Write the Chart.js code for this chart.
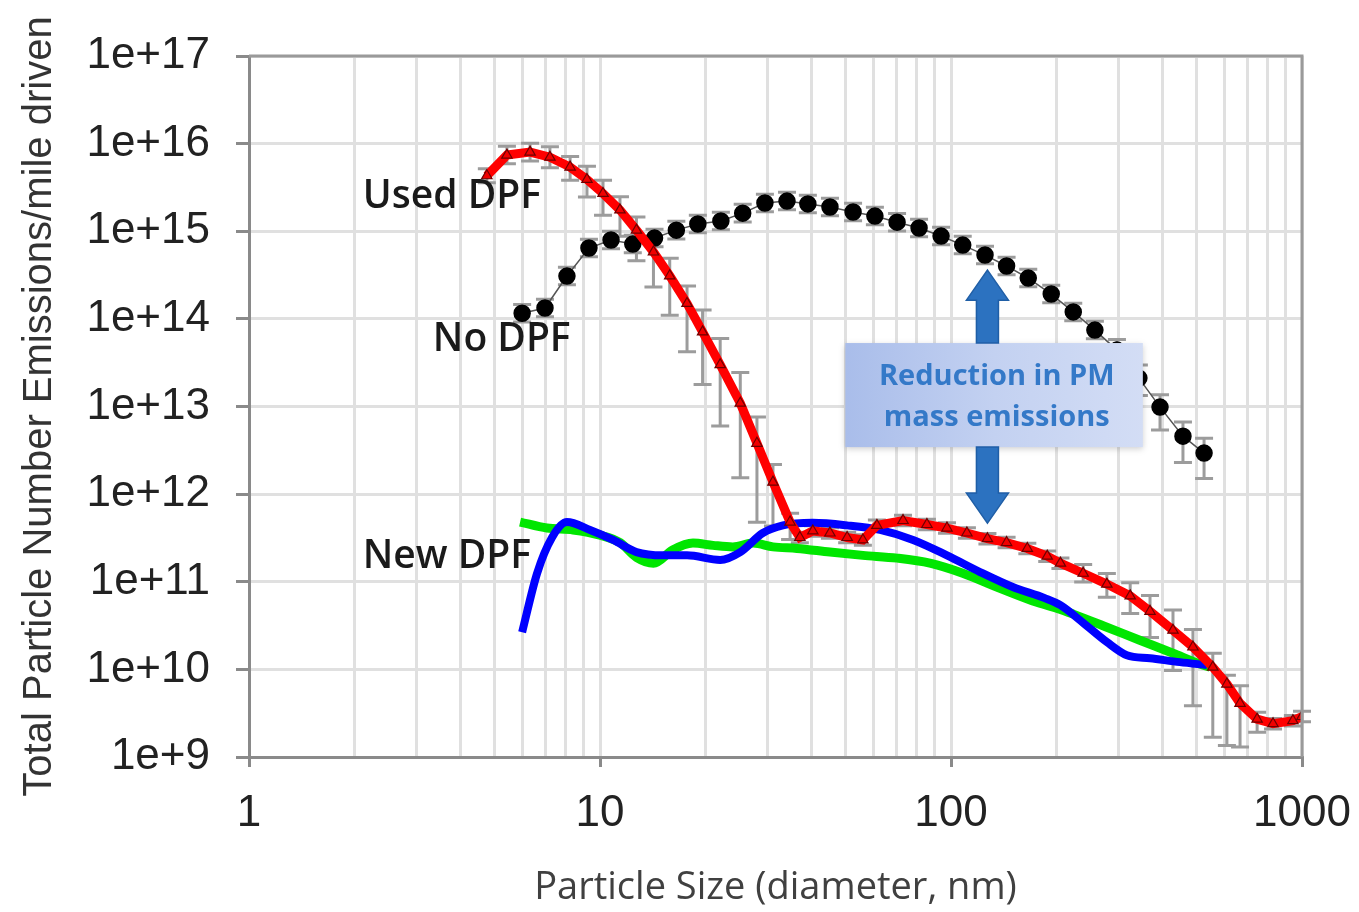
<!DOCTYPE html>
<html>
<head>
<meta charset="utf-8">
<script src="https://cdn.jsdelivr.net/npm/chart.js@4.4.1/dist/chart.umd.min.js"></script>
<style>
  html, body { margin: 0; background: #fff; }
  #wrap { width: 1359px; height: 912px; }
</style>
</head>
<body>
<div id="wrap"><canvas id="chart"></canvas></div>
<script>
// particle size (nm) and emissions per mile
const usedX = [4.76, 5.43, 6.32, 7.20, 8.22, 9.18, 10.2, 11.4, 12.7, 14.2,
  15.8, 17.7, 19.6, 22.0, 25.1, 28.0, 31.1, 34.8, 37.1, 40.4,
  45.2, 50.6, 56.1, 61.5, 73.0, 85.4, 97.4, 111, 127, 144,
  165, 188, 205, 238, 278, 324, 369, 429, 489, 557,
  611, 666, 745, 827, 942, 1000];
const usedY = [4.3e15, 7.4e15, 8.0e15, 7.0e15, 5.4e15, 3.9e15, 2.7e15, 1.75e15, 1.03e15, 5.8e14,
  3.1e14, 1.5e14, 7.1e13, 3.0e13, 1.09e13, 3.8e12, 1.37e12, 4.8e11, 3.2e11, 3.8e11,
  3.6e11, 3.2e11, 3.0e11, 4.4e11, 5.0e11, 4.5e11, 4.1e11, 3.6e11, 3.1e11, 2.8e11,
  2.4e11, 1.96e11, 1.63e11, 1.25e11, 9.4e10, 6.9e10, 4.6e10, 2.8e10, 1.8e10, 1.06e10,
  6.8e9, 4.1e9, 2.7e9, 2.4e9, 2.6e9, 2.9e9];
// error bar extent, in decades above / below the point
const usedErrHi = [0.08, 0.1, 0.1, 0.12, 0.12, 0.15, 0.15, 0.15, 0.15, 0.15,
  0.2, 0.2, 0.25, 0.3, 0.35, 0.3, 0.2, 0.1, 0.06, 0.06,
  0.06, 0.06, 0.06, 0.06, 0.06, 0.06, 0.06, 0.06, 0.06, 0.06,
  0.06, 0.06, 0.06, 0.1, 0.12, 0.15, 0.18, 0.23, 0.2, 0.16,
  0.1, 0.2, 0.08, 0.06, 0.06, 0.06];
const usedErrLo = [0.08, 0.1, 0.1, 0.12, 0.15, 0.2, 0.25, 0.3, 0.35, 0.4,
  0.45, 0.55, 0.6, 0.7, 0.85, 0.9, 0.5, 0.2, 0.06, 0.06,
  0.06, 0.06, 0.06, 0.06, 0.06, 0.06, 0.06, 0.06, 0.06, 0.06,
  0.06, 0.06, 0.06, 0.1, 0.15, 0.2, 0.3, 0.46, 0.67, 0.8,
  0.7, 0.5, 0.15, 0.06, 0.06, 0.06];

const noX = [6.0, 6.97, 8.05, 9.3, 10.75, 12.4, 14.3, 16.5, 19.0, 22.1,
  25.5, 29.5, 34.1, 39.1, 45.2, 52.6, 60.7, 70.2, 81.1, 93.7,
  108, 125, 144, 166, 193, 223, 257, 297, 343, 394,
  458, 526];
const noY = [1.16e14, 1.33e14, 3.08e14, 6.43e14, 7.94e14, 7.14e14, 8.36e14, 1.03e15, 1.21e15, 1.31e15,
  1.61e15, 2.10e15, 2.21e15, 2.05e15, 1.89e15, 1.66e15, 1.49e15, 1.27e15, 1.09e15, 8.81e14,
  6.95e14, 5.35e14, 4.01e14, 2.92e14, 1.92e14, 1.20e14, 7.45e13, 4.40e13, 2.11e13, 9.84e12,
  4.59e12, 2.94e12];
const noErrHi = [0.1, 0.1, 0.1, 0.1, 0.1, 0.1, 0.1, 0.1, 0.1, 0.1,
  0.1, 0.1, 0.1, 0.1, 0.1, 0.1, 0.1, 0.1, 0.1, 0.1,
  0.1, 0.1, 0.1, 0.1, 0.1, 0.1, 0.1, 0.12, 0.15, 0.14,
  0.16, 0.17];
const noErrLo = [0.1, 0.1, 0.1, 0.1, 0.1, 0.1, 0.1, 0.1, 0.1, 0.1,
  0.1, 0.1, 0.1, 0.1, 0.1, 0.1, 0.1, 0.1, 0.1, 0.1,
  0.1, 0.1, 0.1, 0.1, 0.1, 0.1, 0.1, 0.12, 0.2, 0.26,
  0.3, 0.29];

const newGreenX = [5.92, 7.06, 8.38, 10, 11.4, 12.7, 14.2, 16.1, 18.4, 21.0,
  23.9, 27.3, 31.1, 36.4, 45.2, 56.1, 70.2, 87.1, 108, 135,
  168, 200, 223, 278, 345, 429, 512, 547];
const newGreenY = [4.8e11, 4.1e11, 3.9e11, 3.4e11, 2.8e11, 1.9e11, 1.63e11, 2.3e11, 2.76e11, 2.6e11,
  2.5e11, 2.76e11, 2.5e11, 2.4e11, 2.18e11, 2.0e11, 1.86e11, 1.63e11, 1.25e11, 8.7e10,
  6.2e10, 5.0e10, 4.27e10, 3.03e10, 2.15e10, 1.53e10, 1.15e10, 1.06e10];

const newBlueX = [6.0, 6.62, 7.30, 8.05, 9.37, 10.9, 12.7, 15.1, 17.7, 22.0,
  25.1, 29.1, 33.2, 40.4, 50.6, 62.8, 78.0, 97.4, 121, 150,
  185, 205, 238, 278, 317, 369, 449, 536];
const newBlueY = [2.66e10, 1.25e11, 3.2e11, 4.8e11, 3.9e11, 3.0e11, 2.18e11, 2.0e11, 2.0e11, 1.77e11,
  2.18e11, 3.6e11, 4.4e11, 4.7e11, 4.4e11, 3.9e11, 3.0e11, 2.0e11, 1.29e11, 8.7e10,
  6.5e10, 5.4e10, 3.4e10, 2.05e10, 1.45e10, 1.34e10, 1.21e10, 1.12e10];

const xTicks = [1, 2, 3, 4, 5, 6, 7, 8, 9, 10, 20, 30, 40, 50, 60, 70, 80, 90,
  100, 200, 300, 400, 500, 600, 700, 800, 900, 1000];
const xLabels = [1, 10, 100, 1000];
const yTicks = [1e9, 1e10, 1e11, 1e12, 1e13, 1e14, 1e15, 1e16, 1e17];

const toPoints = (xs, ys) => xs.map((x, i) => ({ x, y: ys[i] }));

const errorBars = {
  id: 'errorBars',
  beforeDatasetsDraw(chart) {
    const { ctx, scales: { x, y } } = chart;
    const sets = [[usedX, usedY, usedErrHi, usedErrLo], [noX, noY, noErrHi, noErrLo]];
    ctx.save();
    ctx.strokeStyle = '#9c9c9c';
    ctx.lineWidth = 3;
    sets.forEach(([xs, ys, hi, lo]) => {
      xs.forEach((v, i) => {
        const px = x.getPixelForValue(v);
        const top = y.getPixelForValue(ys[i] * Math.pow(10, hi[i]));
        const bot = y.getPixelForValue(ys[i] / Math.pow(10, lo[i]));
        ctx.beginPath();
        ctx.moveTo(px, top); ctx.lineTo(px, bot);
        ctx.moveTo(px - 9, top); ctx.lineTo(px + 9, top);
        ctx.moveTo(px - 9, bot); ctx.lineTo(px + 9, bot);
        ctx.stroke();
      });
    });
    ctx.restore();
  }
};

function arrow(ctx, x, yBase, yTip) {
  const dir = yTip < yBase ? -1 : 1;
  const head = 30;
  ctx.beginPath();
  ctx.moveTo(x - 11, yBase);
  ctx.lineTo(x - 11, yTip - dir * head);
  ctx.lineTo(x - 21, yTip - dir * head);
  ctx.lineTo(x, yTip);
  ctx.lineTo(x + 21, yTip - dir * head);
  ctx.lineTo(x + 11, yTip - dir * head);
  ctx.lineTo(x + 11, yBase);
  ctx.closePath();
  ctx.fill();
  ctx.stroke();
}

const annotations = {
  id: 'annotations',
  afterDatasetsDraw(chart) {
    const { ctx, scales: { x, y } } = chart;
    ctx.save();

    // reduction box
    const bx1 = x.getPixelForValue(50), bx2 = x.getPixelForValue(352);
    const by1 = y.getPixelForValue(5.3e13), by2 = y.getPixelForValue(3.44e12);
    const grad = ctx.createLinearGradient(bx1, 0, bx2, 0);
    grad.addColorStop(0, '#a9bdea');
    grad.addColorStop(0.5, '#c3d1f1');
    grad.addColorStop(1, '#d3ddf5');
    ctx.shadowColor = 'rgba(0,0,0,0.18)';
    ctx.shadowBlur = 6;
    ctx.shadowOffsetY = 2;
    ctx.fillStyle = grad;
    ctx.fillRect(bx1, by1, bx2 - bx1, by2 - by1);
    ctx.shadowColor = 'transparent';

    ctx.fillStyle = '#3479c8';
    ctx.font = '700 29px "Open Sans"';
    ctx.textAlign = 'center';
    ctx.textBaseline = 'middle';
    const tx = x.getPixelForValue(135);
    ctx.fillText('Reduction in PM', tx, y.getPixelForValue(2.2e13));
    ctx.fillText('mass emissions', tx, y.getPixelForValue(7.4e12));

    // arrows
    const ax = x.getPixelForValue(127);
    ctx.fillStyle = '#2c72c0';
    ctx.strokeStyle = '#1f5ea6';
    ctx.lineWidth = 1.5;
    arrow(ctx, ax, by1, y.getPixelForValue(3.6e14));
    arrow(ctx, ax, by2, y.getPixelForValue(4.67e11));

    // series labels
    ctx.fillStyle = '#1a1a1a';
    ctx.font = '600 39px "Open Sans"';
    ctx.textAlign = 'left';
    ctx.fillText('Used DPF', x.getPixelForValue(2.11), y.getPixelForValue(2.46e15));
    ctx.fillText('No DPF', x.getPixelForValue(3.34), y.getPixelForValue(5.7e13));
    ctx.fillText('New DPF', x.getPixelForValue(2.11), y.getPixelForValue(1.9e11));
    ctx.restore();
  },
  afterDraw(chart) {
    const { ctx, chartArea: a } = chart;
    ctx.save();
    ctx.strokeStyle = '#9a9a9a';
    ctx.lineWidth = 3;
    ctx.beginPath();
    ctx.moveTo(a.left, a.top); ctx.lineTo(a.right, a.top); ctx.lineTo(a.right, a.bottom);
    ctx.stroke();
    ctx.restore();
  }
};

new Chart(document.getElementById('chart'), {
  type: 'line',
  data: {
    datasets: [
      {
        label: 'Used DPF',
        data: toPoints(usedX, usedY),
        borderColor: '#ff0000',
        borderWidth: 9,
        pointStyle: 'triangle',
        pointRadius: 6,
        pointBackgroundColor: '#f00000',
        pointBorderColor: '#6e0000',
        pointBorderWidth: 1.2
      },
      {
        label: 'No DPF',
        data: toPoints(noX, noY),
        borderColor: '#555555',
        borderWidth: 1.5,
        pointRadius: 8,
        pointBackgroundColor: '#000',
        pointBorderColor: '#000'
      },
      {
        label: 'New DPF (blue)',
        data: toPoints(newBlueX, newBlueY),
        borderColor: '#0000ff',
        borderWidth: 8,
        pointRadius: 0,
        cubicInterpolationMode: 'monotone'
      },
      {
        label: 'New DPF (green)',
        data: toPoints(newGreenX, newGreenY),
        borderColor: '#00e600',
        borderWidth: 9,
        pointRadius: 0,
        cubicInterpolationMode: 'monotone'
      }
    ]
  },
  options: {
    responsive: true,
    maintainAspectRatio: false,
    animation: false,
    layout: { padding: { left: 0, right: 57, top: 56, bottom: 0 } },
    plugins: { legend: { display: false }, tooltip: { enabled: false } },
    scales: {
      x: {
        type: 'logarithmic',
        min: 1,
        max: 1000,
        afterFit(scale) {
          scale.height = 155;
          scale.paddingLeft = 0;
          scale.paddingRight = 0;
        },
        afterBuildTicks(scale) { scale.ticks = xTicks.map((value) => ({ value })); },
        ticks: {
          autoSkip: false,
          maxRotation: 0,
          padding: 20,
          color: '#222',
          font: { family: 'Liberation Sans', size: 44 },
          callback: (value) => (xLabels.includes(value) ? String(value) : '')
        },
        grid: {
          color: '#e0e0e0',
          lineWidth: 3,
          tickLength: 10,
          tickWidth: 3,
          tickColor: (c) => (xLabels.includes(c.tick && c.tick.value) ? '#8a8a8a' : 'rgba(0,0,0,0)')
        },
        border: { color: '#8a8a8a', width: 3 },
        title: {
          display: true,
          text: 'Particle Size (diameter, nm)',
          color: '#404040',
          font: { family: 'Open Sans', size: 38 },
          padding: { top: 0, bottom: 1 }
        }
      },
      y: {
        type: 'logarithmic',
        min: 1e9,
        max: 1e17,
        afterFit(scale) {
          scale.width = 249;
          scale.paddingTop = 0;
          scale.paddingBottom = 0;
        },
        afterBuildTicks(scale) { scale.ticks = yTicks.map((value) => ({ value })); },
        ticks: {
          padding: 26,
          color: '#222',
          font: { family: 'Liberation Sans', size: 44 },
          callback: (value) => '1e+' + Math.round(Math.log10(value))
        },
        grid: {
          color: '#e0e0e0',
          lineWidth: 3,
          tickLength: 13,
          tickWidth: 3,
          tickColor: '#8a8a8a'
        },
        border: { color: '#8a8a8a', width: 3 },
        title: {
          display: true,
          text: 'Total Particle Number Emissions/mile driven',
          color: '#333',
          font: { family: 'Liberation Sans', size: 40 },
          padding: { top: 16, bottom: 0 }
        }
      }
    }
  },
  plugins: [errorBars, annotations]
});
</script>
</body>
</html>
